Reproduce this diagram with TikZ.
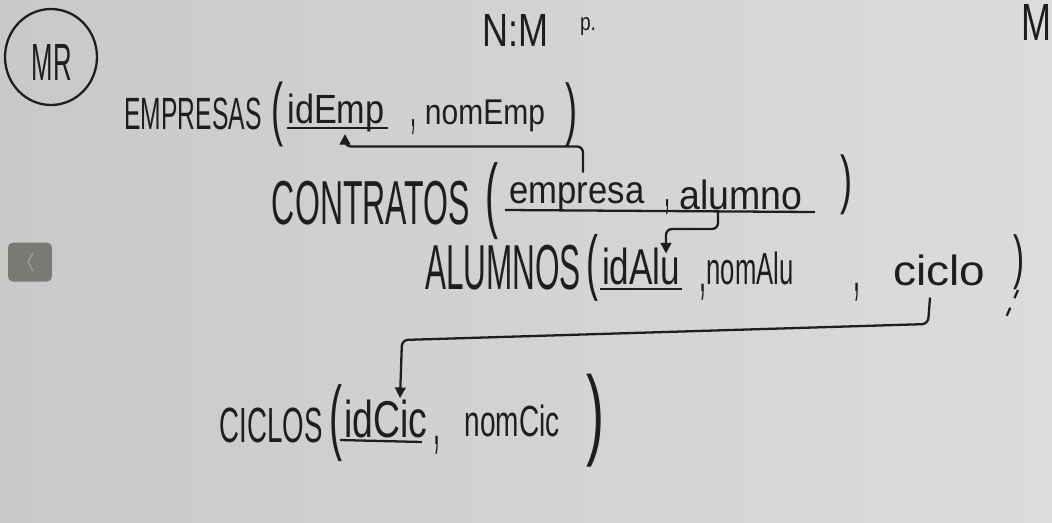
\documentclass[tikz,border=0pt]{standalone}
\usepackage{fontspec}
\setmainfont{Liberation Sans}
\usepackage{graphicx}
\usetikzlibrary{arrows.meta,calc}
\newlength\pxu \setlength\pxu{0.02cm}
\newcommand\hw[3]{\resizebox*{#1\pxu}{#2\pxu}{#3}}
\definecolor{ink}{HTML}{1E1E1E}
\definecolor{boardL}{HTML}{C9C9C7}
\definecolor{boardR}{HTML}{DCDCDA}
\definecolor{btn}{HTML}{797976}
\definecolor{btnmark}{HTML}{9C9C99}
\tikzset{
  hw/.style={inner sep=0pt, outer sep=0pt, text=ink, anchor=center},
  conn/.style={draw=ink, line width=1.3pt, rounded corners=0.12cm, -{Triangle[length=6pt,width=6pt]}},
  uline/.style={draw=ink, line width=1.3pt},
}
\begin{document}
\begin{tikzpicture}[x=0.02cm,y=-0.02cm]
\useasboundingbox (0,0) rectangle (1052,522);
\shade[left color=boardL, right color=boardR] (0,0) rectangle (1052,522);

% slide button
\node[fill=btn, rounded corners=0.1cm, minimum width=0.88cm, minimum height=0.78cm, inner sep=0pt] (btn) at (30,262) {};
\draw[btnmark, line width=0.8pt] (33,253) -- (28,262) -- (33,271);

% MR circle
\draw[ink, line width=1.3pt] (51,57) ellipse [x radius=0.92cm, y radius=0.96cm];
\node[hw] (mr) at (52,62) {\hw{40}{36}{MR}};

% top texts
\node[hw] (nm) at (515,30) {\hw{66}{32}{N:M}};
\node[hw] (pp) at (588,27) {\hw{16}{18}{p.}};
\node[hw] (mright) at (1036,22) {\hw{30}{36}{M}};

% EMPRESAS
\node[hw] (empresas) at (193,114) {\hw{137}{32}{EMPRESAS}};
\node[hw] (lp1) at (277,114) {\hw{12}{65}{(}};
\node[hw] (idEmp) at (336,113) {\hw{97}{38}{idEmp}};
\draw[uline] (287,128) -- (388,128);
\node[hw] (cm1) at (413,127) {\hw{6}{15}{,}};
\node[hw] (nomEmp) at (485,116) {\hw{120}{32}{nomEmp}};
\node[hw] (rp1) at (571,115) {\hw{12}{64}{)}};

% CONTRATOS
\node[hw] (contratos) at (371,203) {\hw{198}{44}{CONTRATOS}};
\node[hw] (lp2) at (492,201) {\hw{13}{77}{(}};
\node[hw] (empresa) at (577,197) {\hw{135}{29}{empresa}};
\node[hw] (cm2) at (667,207) {\hw{6}{15}{,}};
\node[hw] (alumno) at (741,195) {\hw{123}{30}{alumno}};
\draw[uline] (505,210) -- (815,212);
\node[hw] (rp2) at (846,185) {\hw{12}{60}{)}};

% ALUMNOS
\node[hw] (alumnos) at (503,268) {\hw{156}{45}{ALUMNOS}};
\node[hw] (lp3) at (592,268) {\hw{12}{67}{(}};
\node[hw] (idAlu) at (641,266) {\hw{78}{37}{idAlu}};
\draw[uline] (600,289) -- (682,289);
\node[hw] (cm3) at (703,292) {\hw{7}{16}{,}};
\node[hw] (nomAlu) at (750,268) {\hw{87}{33}{nomAlu}};
\node[hw] (cm4) at (857,292) {\hw{7}{18}{,}};
\node[hw] (ciclo) at (939,270) {\hw{92}{31}{ciclo}};
\node[hw] (rp3) at (1019,262) {\hw{11}{55}{)}};
\draw[ink, line width=1.3pt, dash pattern=on 5pt off 6pt] (1018,290) -- (1004,322);

% CICLOS
\node[hw] (ciclos) at (271,425) {\hw{103}{35}{CICLOS}};
\node[hw] (lp4) at (336,423) {\hw{13}{77}{(}};
\node[hw] (idCic) at (386,419) {\hw{83}{38}{idCic}};
\draw[uline] (340,440) -- (422,442);
\node[hw] (cm5) at (437,445) {\hw{7}{18}{,}};
\node[hw] (nomCic) at (512,421) {\hw{95}{32}{nomCic}};
\node[hw] (rp4) at (595,421) {\hw{18}{93}{)}};

% connectors
\draw[conn] ([shift={(6,-10)}]empresa.north) -- ++(0,-26) -| ([shift={(9,2)}]idEmp.south);
\draw[conn] ([shift={(-23,2)}]alumno.south) -- ++(0,17) -| ([shift={(25,6)}]idAlu.north);
\draw[conn] ([shift={(-9,12)}]ciclo.south) -- (928,324) -- (402,340) -- ([shift={(14,-2)}]idCic.north);
\end{tikzpicture}
\end{document}
